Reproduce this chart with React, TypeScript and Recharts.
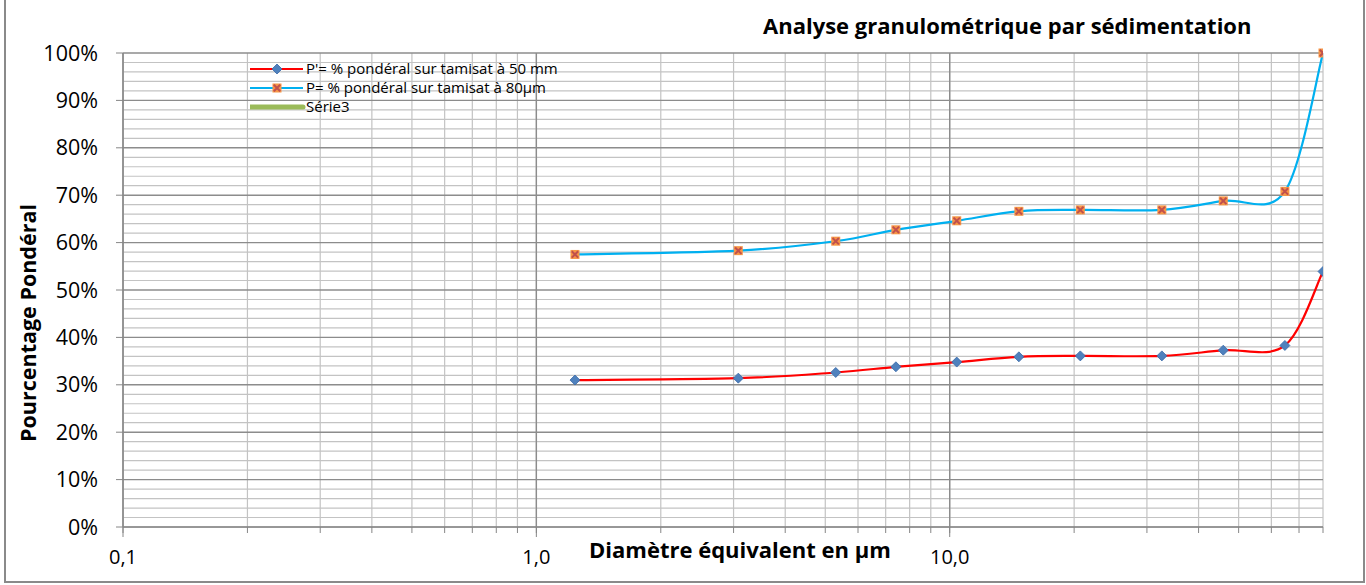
import React from 'react';
import { LineChart, Line, XAxis, YAxis, CartesianGrid, Legend } from 'recharts';

// diamètres équivalents (µm) et pourcentages
const diametres = [1.24, 3.08, 5.3, 7.41, 10.4, 14.7, 20.7, 32.6, 45.9, 64.7, 80];
const pPrime = [31.0, 31.4, 32.6, 33.8, 34.8, 35.9, 36.1, 36.1, 37.3, 38.3, 53.9];
const pTamisat = [57.5, 58.3, 60.3, 62.7, 64.6, 66.6, 66.9, 66.9, 68.8, 70.8, 100];

const xTicks = [
  0.1, 0.2, 0.3, 0.4, 0.5, 0.6, 0.7, 0.8, 0.9,
  1, 2, 3, 4, 5, 6, 7, 8, 9,
  10, 20, 30, 40, 50, 60, 70, 80,
];
const xMajor = [0.1, 1, 10];
const xLabels: Record<number, string> = { 0.1: '0,1', 1: '1,0', 10: '10,0' };
const yTicks = [0, 10, 20, 30, 40, 50, 60, 70, 80, 90, 100];
const yMinor = [
  2, 4, 6, 8, 12, 14, 16, 18, 22, 24, 26, 28, 32, 34, 36, 38, 42, 44, 46, 48,
  52, 54, 56, 58, 62, 64, 66, 68, 72, 74, 76, 78, 82, 84, 86, 88, 92, 94, 96, 98,
];

const data = diametres.map((d, i) => ({ d, pp: pPrime[i], p: pTamisat[i] }));

const FONT = '"Open Sans", Lato, sans-serif';

// lissage façon Excel (Catmull-Rom -> Bézier)
function excelSmooth(context: any) {
  let pts: [number, number][] = [];
  return {
    areaStart() {},
    areaEnd() {},
    lineStart() { pts = []; },
    lineEnd() {
      const n = pts.length;
      if (!n) return;
      context.moveTo(pts[0][0], pts[0][1]);
      for (let i = 0; i < n - 1; i++) {
        const p0 = pts[Math.max(i - 1, 0)];
        const p1 = pts[i];
        const p2 = pts[i + 1];
        const p3 = pts[Math.min(i + 2, n - 1)];
        context.bezierCurveTo(
          p1[0] + (p2[0] - p0[0]) / 6, p1[1] + (p2[1] - p0[1]) / 6,
          p2[0] - (p3[0] - p1[0]) / 6, p2[1] - (p3[1] - p1[1]) / 6,
          p2[0], p2[1],
        );
      }
    },
    point(x: number, y: number) { pts.push([+x, +y]); },
  };
}

function Diamond({ cx, cy }: any) {
  if (cx == null || cy == null) return null;
  const r = 5;
  return (
    <polygon
      points={`${cx},${cy - r} ${cx + r},${cy} ${cx},${cy + r} ${cx - r},${cy}`}
      fill="#4F81BD" stroke="#3A6AA8" strokeWidth={0.8}
    />
  );
}

function CrossSquare({ cx, cy }: any) {
  if (cx == null || cy == null) return null;
  const r = 4.5;
  return (
    <g>
      <rect x={cx - r} y={cy - r} width={2 * r} height={2 * r} fill="#F79646" />
      <path d={`M${cx - 3.2},${cy - 3.2}L${cx + 3.2},${cy + 3.2}M${cx + 3.2},${cy - 3.2}L${cx - 3.2},${cy + 3.2}`}
        stroke="#C0504D" strokeWidth={2} />
    </g>
  );
}

const legendItems = [
  { name: "P'= % pondéral sur tamisat à 50 mm", color: '#FF0000', marker: 'diamond' },
  { name: 'P= % pondéral sur tamisat à 80µm', color: '#00B0F0', marker: 'cross' },
  { name: 'Série3', color: '#9BBB59', marker: 'none' },
];

function LegendBox() {
  return (
    <div style={{ fontFamily: FONT, fontSize: 15, color: '#000', lineHeight: '19px' }}>
      {legendItems.map((it) => (
        <div key={it.name} style={{ display: 'flex', alignItems: 'center', height: 19, whiteSpace: 'nowrap' }}>
          <svg width={56} height={12}>
            <line x1={0} y1={6} x2={53} y2={6} stroke={it.color}
              strokeWidth={it.marker === 'none' ? 5 : 2} strokeLinecap={it.marker === 'none' ? 'round' : 'butt'} />
            {it.marker === 'diamond' && <Diamond cx={27} cy={6} />}
            {it.marker === 'cross' && <CrossSquare cx={27} cy={6} />}
          </svg>
          <span>{it.name}</span>
        </div>
      ))}
    </div>
  );
}

function XTick({ x, y, payload }: any) {
  const label = xLabels[payload.value];
  const major = xMajor.includes(payload.value);
  return (
    <g>
      {major && <line x1={x} y1={y - 8} x2={x} y2={y + 2} stroke="#868686" />}
      {label && (
        <text x={x} y={y + 29} textAnchor="middle" fontFamily={FONT} fontSize={20} fill="#000">
          {label}
        </text>
      )}
    </g>
  );
}

export default function App() {
  return (
    <div style={{ position: 'absolute', left: 0, top: 0, width: 1366, height: 585, background: '#fff' }}>
      <div style={{
        position: 'absolute', left: 4, top: -2, width: 1357, height: 581,
        border: '2px solid #8a8a8a', boxSizing: 'content-box',
      }} />
      <div style={{
        position: 'absolute', left: 763, top: 9.5, fontFamily: FONT, fontWeight: 700,
        fontSize: 22, lineHeight: 'normal', color: '#000', whiteSpace: 'nowrap',
      }}>
        Analyse granulométrique par sédimentation
      </div>
      <div style={{
        position: 'absolute', left: 589, top: 533.5, fontFamily: FONT, fontWeight: 700,
        fontSize: 22, lineHeight: 'normal', color: '#000', whiteSpace: 'nowrap',
      }}>
        Diamètre équivalent en µm
      </div>
      <div style={{
        position: 'absolute', left: 27, top: 323, fontFamily: FONT, fontWeight: 700,
        fontSize: 21.5, lineHeight: 'normal', color: '#000', whiteSpace: 'nowrap',
        transform: 'translate(-50%, -50%) rotate(-90deg)',
      }}>
        Pourcentage Pondéral
      </div>
      <div style={{ position: 'absolute', left: 0, top: 0 }}>
        <LineChart width={1366} height={585} data={data}
          margin={{ top: 53, right: 43, bottom: 0, left: 0 }}>
          <CartesianGrid stroke="#c3c3c3" strokeWidth={1.2}
            verticalValues={xTicks} horizontalValues={yMinor} />
          <CartesianGrid stroke="#8c8c8c" strokeWidth={1.4}
            verticalValues={xMajor} horizontalValues={yTicks} />
          <XAxis dataKey="d" type="number" scale="log" domain={[0.1, 80]}
            ticks={xTicks} allowDataOverflow interval={0} height={58}
            stroke="#868686" tickSize={6} tick={<XTick />} />
          <YAxis type="number" domain={[0, 100]} ticks={yTicks} width={123}
            stroke="#868686" tickSize={7} tickMargin={18} interval={0}
            tickFormatter={(v: number) => `${v}%`}
            tick={{ fill: '#000', fontFamily: FONT, fontSize: 21.5 }} />
          <Legend layout="vertical" align="center" verticalAlign="middle"
            wrapperStyle={{ left: 250, top: 59 }} content={() => <LegendBox />} />
          <Line dataKey="pp" name={legendItems[0].name} type={excelSmooth as any}
            stroke="#FF0000" strokeWidth={2.2} dot={<Diamond />} activeDot={false}
            isAnimationActive={false} />
          <Line dataKey="p" name={legendItems[1].name} type={excelSmooth as any}
            stroke="#00B0F0" strokeWidth={2.2} dot={<CrossSquare />} activeDot={false}
            isAnimationActive={false} />
        </LineChart>
      </div>
    </div>
  );
}
